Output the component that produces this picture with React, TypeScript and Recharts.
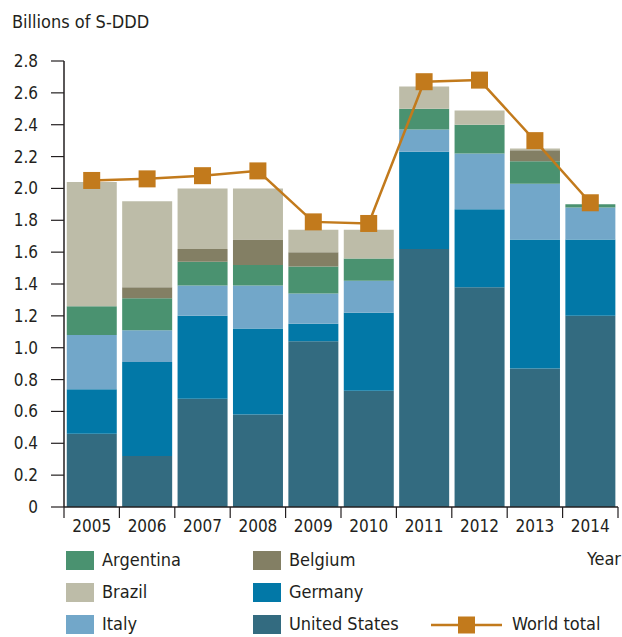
import { Bar, ComposedChart, Line, XAxis, YAxis } from "recharts";

const years = ["2005", "2006", "2007", "2008", "2009", "2010", "2011", "2012", "2013", "2014"];
const unitedStates = [0.46, 0.32, 0.68, 0.58, 1.04, 0.73, 1.62, 1.38, 0.87, 1.2];
const germany = [0.28, 0.59, 0.52, 0.54, 0.11, 0.49, 0.61, 0.49, 0.81, 0.48];
const italy = [0.34, 0.2, 0.19, 0.27, 0.19, 0.2, 0.14, 0.35, 0.35, 0.2];
const argentina = [0.18, 0.2, 0.15, 0.13, 0.17, 0.14, 0.13, 0.18, 0.14, 0.02];
const belgium = [0, 0.07, 0.08, 0.16, 0.09, 0, 0, 0, 0.07, 0];
const brazil = [0.78, 0.54, 0.38, 0.32, 0.14, 0.18, 0.14, 0.09, 0.01, 0];
const worldTotal = [2.05, 2.06, 2.08, 2.11, 1.79, 1.78, 2.67, 2.68, 2.3, 1.91];
const yTicks = [0, 0.2, 0.4, 0.6, 0.8, 1.0, 1.2, 1.4, 1.6, 1.8, 2.0, 2.2, 2.4, 2.6, 2.8];

const data = years.map((year, i) => ({
  year,
  unitedStates: unitedStates[i],
  germany: germany[i],
  italy: italy[i],
  argentina: argentina[i],
  belgium: belgium[i],
  brazil: brazil[i],
  worldTotal: worldTotal[i],
}));

const FONT = "'DejaVu Sans Condensed', 'Liberation Sans Narrow', sans-serif";
const INK = "#231f20";
const C = {
  unitedStates: "#336b80",
  germany: "#0278a7",
  italy: "#72a7c9",
  argentina: "#4a9270",
  belgium: "#837f64",
  brazil: "#bdbca8",
  world: "#c27a1c",
};

const W = 622;
const H = 637;
const LEFT = 64;
const RIGHT = 4;
const HALF_BAND = (W - LEFT - RIGHT) / years.length / 2;

const XTick = (props: any) => {
  const { x, y, payload, index } = props;
  return (
    <g>
      <line x1={x - HALF_BAND} x2={x - HALF_BAND} y1={y} y2={y + 11} stroke={INK} strokeWidth={1.2} />
      {index === years.length - 1 && (
        <line x1={x + HALF_BAND} x2={x + HALF_BAND} y1={y} y2={y + 11} stroke={INK} strokeWidth={1.2} />
      )}
      <text x={x} y={y + 19} textAnchor="middle" dominantBaseline="central" fill={INK} fontSize={17} fontFamily={FONT}>
        {payload.value}
      </text>
    </g>
  );
};

const SquareDot = (props: any) => {
  const { cx, cy } = props;
  if (cx == null || cy == null) return null;
  return <rect x={cx - 8.5} y={cy - 8.5} width={17} height={17} fill={C.world} />;
};

const legendItems = [
  { label: "Argentina", color: C.argentina, x: 66, y: 560 },
  { label: "Brazil", color: C.brazil, x: 66, y: 592 },
  { label: "Italy", color: C.italy, x: 66, y: 624 },
  { label: "Belgium", color: C.belgium, x: 253, y: 560 },
  { label: "Germany", color: C.germany, x: 253, y: 592 },
  { label: "United States", color: C.unitedStates, x: 253, y: 624 },
];

const textStyle = {
  position: "absolute" as const,
  fontFamily: FONT,
  fontSize: 18,
  color: INK,
  lineHeight: "20px",
  whiteSpace: "nowrap" as const,
};

const App = () => {
  return (
    <div style={{ position: "absolute", left: 0, top: 0, width: W, height: H, background: "#fff" }}>
      <div style={{ ...textStyle, left: 12, top: 12 }}>Billions of S-DDD</div>
      <ComposedChart
        width={W}
        height={H}
        data={data}
        margin={{ top: 61, right: RIGHT, bottom: 100, left: 0 }}
        barCategoryGap="5%"
      >
        <XAxis
          dataKey="year"
          height={30}
          tickLine={false}
          tickSize={0}
          tickMargin={0}
          tick={<XTick />}
          axisLine={{ stroke: INK, strokeWidth: 1.5 }}
          interval={0}
        />
        <YAxis
          width={LEFT}
          domain={[0, 2.8]}
          ticks={yTicks}
          interval={0}
          tickSize={13}
          tickMargin={13}
          tickFormatter={(v: number) => (v === 0 ? "0" : v.toFixed(1))}
          tick={{ fill: INK, fontSize: 17, fontFamily: FONT }}
          tickLine={{ stroke: INK, strokeWidth: 1.2 }}
          axisLine={{ stroke: INK, strokeWidth: 1.5 }}
        />
        <Bar dataKey="unitedStates" stackId="a" fill={C.unitedStates} isAnimationActive={false} />
        <Bar dataKey="germany" stackId="a" fill={C.germany} isAnimationActive={false} />
        <Bar dataKey="italy" stackId="a" fill={C.italy} isAnimationActive={false} />
        <Bar dataKey="argentina" stackId="a" fill={C.argentina} isAnimationActive={false} />
        <Bar dataKey="belgium" stackId="a" fill={C.belgium} isAnimationActive={false} />
        <Bar dataKey="brazil" stackId="a" fill={C.brazil} isAnimationActive={false} />
        <Line
          dataKey="worldTotal"
          stroke={C.world}
          strokeWidth={2.5}
          dot={<SquareDot />}
          activeDot={false}
          isAnimationActive={false}
        />
      </ComposedChart>
      <div style={{ ...textStyle, right: 1, top: 549 }}>Year</div>
      {legendItems.map((item) => (
        <div key={item.label}>
          <div
            style={{
              position: "absolute",
              left: item.x,
              top: item.y - 9,
              width: 28,
              height: 19,
              background: item.color,
            }}
          />
          <div style={{ ...textStyle, left: item.x + 36, top: item.y - 10 }}>{item.label}</div>
        </div>
      ))}
      <svg style={{ position: "absolute", left: 428, top: 612 }} width={78} height={26}>
        <line x1={3} x2={74} y1={13} y2={13} stroke={C.world} strokeWidth={2.5} />
        <rect x={30} y={4.5} width={17} height={17} fill={C.world} />
      </svg>
      <div style={{ ...textStyle, left: 512, top: 614 }}>World total</div>
    </div>
  );
};

export default App;
